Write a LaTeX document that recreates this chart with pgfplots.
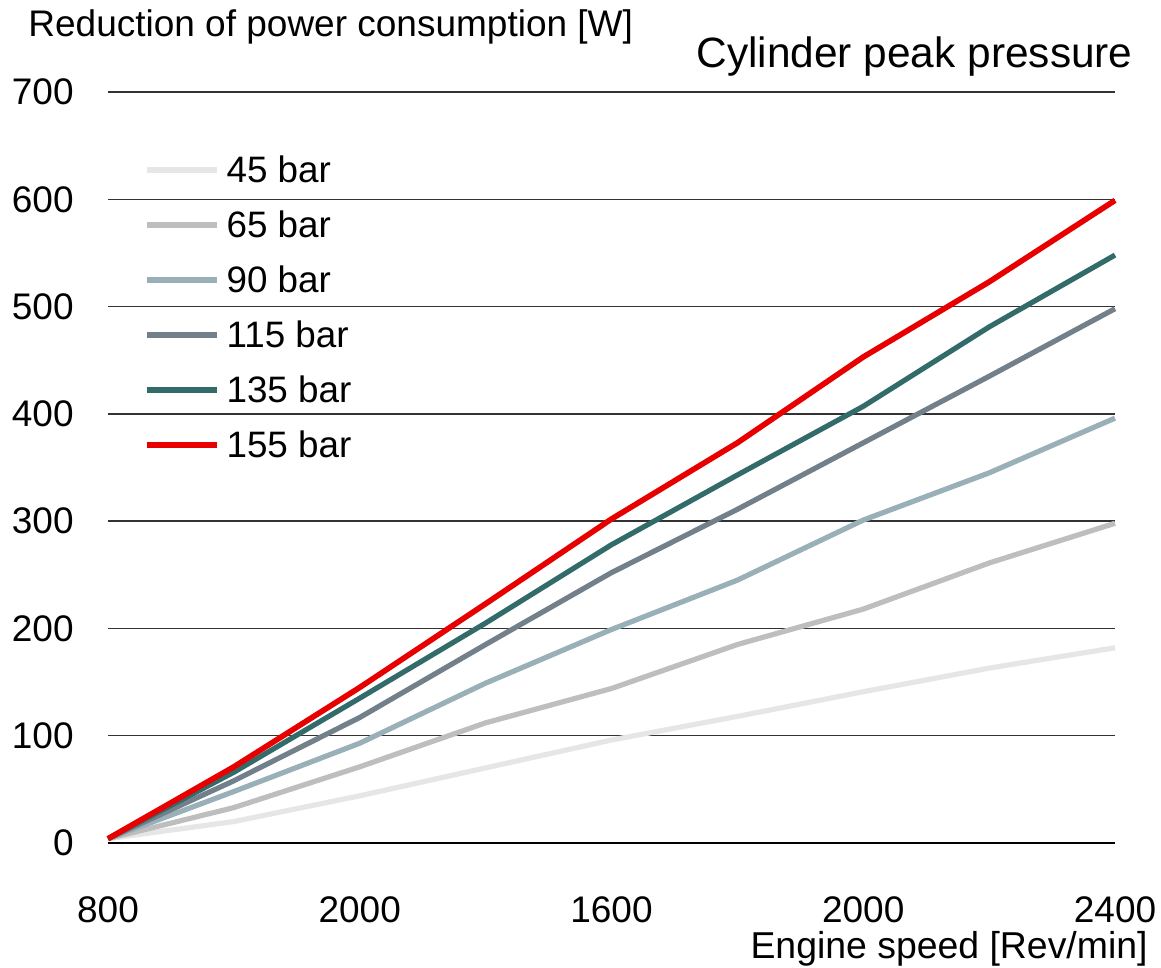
\documentclass[border=0pt]{standalone}
\usepackage{pgfplots}
\pgfplotsset{compat=1.18}
\usepackage{fontspec}
\setmainfont{Liberation Sans}
\definecolor{cA}{HTML}{E6E6E6}
\definecolor{cB}{HTML}{BEBEBE}
\definecolor{cC}{HTML}{9AB0B8}
\definecolor{cD}{HTML}{71808A}
\definecolor{cE}{HTML}{336B6B}
\definecolor{cF}{HTML}{E80000}
\begin{document}
\begin{tikzpicture}
\begin{axis}[
  scale only axis, width=503.5pt, height=375.5pt,
  xmin=800, xmax=2400, ymin=0, ymax=700,
  xtick={800,1200,1600,2000,2400},
  xticklabels={800,2000,1600,2000,2400},
  ytick={0,100,200,300,400,500,600,700},
  axis x line*=bottom, axis y line*=left,
  y axis line style={draw=none},
  x axis line style={black, line width=1.4pt, -},
  major tick length=0pt, tick style={draw=none},
  ymajorgrids, major grid style={line width=0.7pt, color=black!80},
  /pgf/number format/assume math mode=true,
  ticklabel style={font=\fontsize{18.5}{22}\selectfont},
  yticklabel style={anchor=east, inner sep=0pt, xshift=-17pt},
  xticklabel style={anchor=north, inner sep=0pt, yshift=-26.5pt},
  no markers, clip=false,
  every axis plot/.append style={line width=2.6pt, line join=round},
  legend style={draw=none, fill=none, at={(0.0357,0.9127)}, anchor=north west,
    inner sep=0pt, outer sep=0pt, row sep=15pt, column sep=3.5pt,
    font=\fontsize{18.4}{22}\selectfont,
    nodes={inner sep=0pt, text height=12.5pt, text depth=0pt}},
  legend cell align=left,
  legend image code/.code={\draw[#1, line width=2.8pt] (0pt,0pt) -- (35pt,0pt);},
]
\addplot[cA] coordinates {(800,4) (1000,20) (1200,44) (1400,70) (1600,96) (1800,118) (2000,141) (2200,163) (2400,182)};
\addlegendentry{45 bar}
\addplot[cB] coordinates {(800,4) (1000,33) (1200,71) (1400,112) (1600,144) (1800,185) (2000,218) (2200,261) (2400,298)};
\addlegendentry{65 bar}
\addplot[cC] coordinates {(800,4) (1000,48) (1200,93) (1400,149) (1600,199) (1800,245) (2000,301) (2200,345) (2400,396)};
\addlegendentry{90 bar}
\addplot[cD] coordinates {(800,4) (1000,58) (1200,117) (1400,185) (1600,252) (1800,311) (2000,373) (2200,435) (2400,498)};
\addlegendentry{115 bar}
\addplot[cE] coordinates {(800,4) (1000,66) (1200,135) (1400,205) (1600,278) (1800,343) (2000,407) (2200,481) (2400,548)};
\addlegendentry{135 bar}
\addplot[cF, line width=2.8pt] coordinates {(800,4) (1000,71) (1200,145) (1400,223) (1600,302) (1800,373) (2000,453) (2200,523) (2400,599)};
\addlegendentry{155 bar}
\node[anchor=base west, inner sep=0pt, font=\fontsize{18.5}{22}\selectfont] at ([shift={(-40pt,403.15pt)}]rel axis cs:0,0) {Reduction of power consumption [W]};
\node[anchor=base east, inner sep=0pt, font=\fontsize{21.2}{25}\selectfont] at ([shift={(512.5pt,387.85pt)}]rel axis cs:0,0) {Cylinder peak pressure};
\node[anchor=base east, inner sep=0pt, font=\fontsize{18.7}{22}\selectfont] at ([shift={(520pt,-57.5pt)}]rel axis cs:0,0) {Engine speed [Rev/min]};
\end{axis}
\pgfresetboundingbox
\path[use as bounding box] ([shift={(-54pt,-62.5pt)}]current axis.south west) rectangle ([shift={(23pt,46pt)}]current axis.north east);
\end{tikzpicture}
\end{document}
